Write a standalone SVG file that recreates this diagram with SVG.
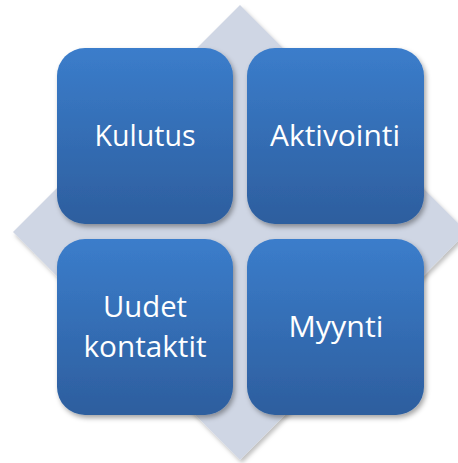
<svg xmlns="http://www.w3.org/2000/svg" width="458" height="463" viewBox="0 0 458 463">
<defs>
<linearGradient id="g" x1="0" y1="0" x2="0" y2="1">
<stop offset="0" stop-color="#3b7dcb"/>
<stop offset="1" stop-color="#2d5e9e"/>
</linearGradient>
<filter id="sh" x="-10%" y="-10%" width="125%" height="125%">
<feDropShadow dx="2" dy="3" stdDeviation="2.5" flood-color="#000" flood-opacity="0.35"/>
</filter>
<filter id="sh2" x="-10%" y="-10%" width="125%" height="125%">
<feDropShadow dx="2" dy="3" stdDeviation="2" flood-color="#000" flood-opacity="0.25"/>
</filter>
</defs>
<style>
.box{fill:url(#g);filter:url(#sh)}
.lbl{font-family:"Open Sans","Noto Sans",sans-serif;font-size:30px;fill:#fff;text-anchor:middle}
</style>
<rect width="458" height="463" fill="#fff"/>
<g id="diamond">
<polygon points="240,5 467,232 240,460 13,232" fill="#cfd6e4" filter="url(#sh2)"/>
</g>
<g id="kulutus">
<rect class="box" x="57" y="48" width="176" height="176" rx="28"/>
<text class="lbl" x="145" y="146" textLength="101" lengthAdjust="spacingAndGlyphs">Kulutus</text>
</g>
<g id="aktivointi">
<rect class="box" x="247" y="48" width="177" height="176" rx="28"/>
<text class="lbl" x="335" y="146" textLength="130" lengthAdjust="spacingAndGlyphs">Aktivointi</text>
</g>
<g id="uudet-kontaktit">
<rect class="box" x="57" y="239" width="176" height="176" rx="28"/>
<text class="lbl" x="145" y="317" textLength="84" lengthAdjust="spacingAndGlyphs">Uudet</text>
<text class="lbl" x="145" y="357" textLength="123" lengthAdjust="spacingAndGlyphs">kontaktit</text>
</g>
<g id="myynti">
<rect class="box" x="247" y="239" width="177" height="176" rx="28"/>
<text class="lbl" x="336" y="337" textLength="95" lengthAdjust="spacingAndGlyphs">Myynti</text>
</g>
<g id="connectors"/>
</svg>
